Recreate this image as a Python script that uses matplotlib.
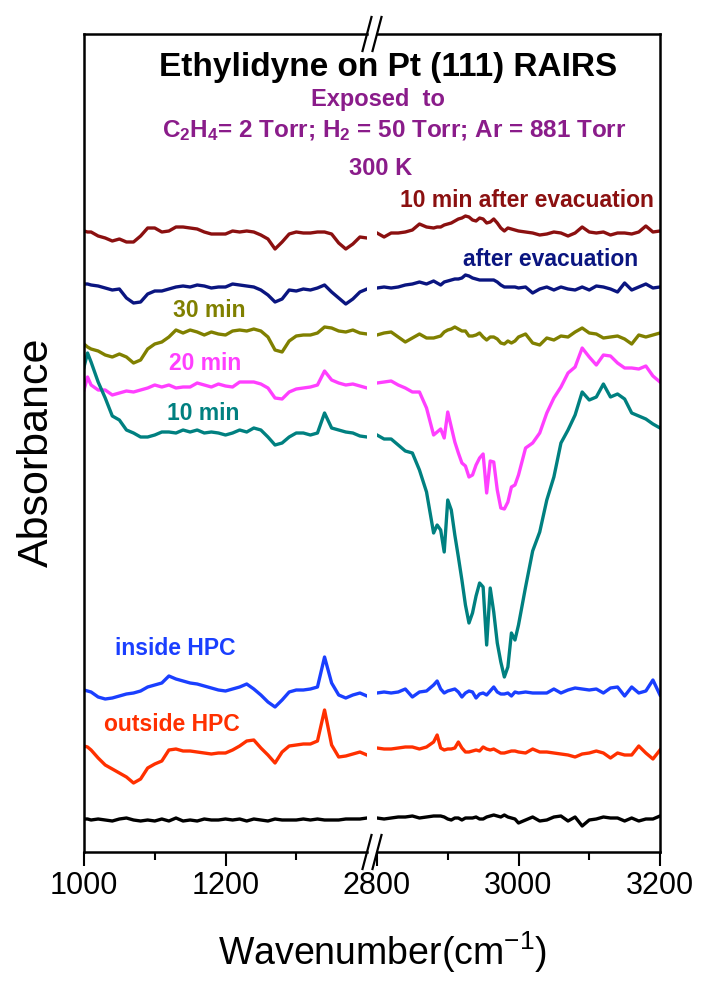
import matplotlib
matplotlib.use('Agg')
import matplotlib.pyplot as plt
from matplotlib.lines import Line2D

plt.rcParams['font.family'] = ['Liberation Sans', 'DejaVu Sans']
plt.rcParams['mathtext.fontset'] = 'custom'
plt.rcParams['mathtext.rm'] = 'Liberation Sans:bold'
plt.rcParams['mathtext.sf'] = 'Liberation Sans'
plt.rcParams['mathtext.default'] = 'rm'

# Wavenumber grids (cm-1) of the two parts of the broken axis
wn_low = [1000, 1005] + list(range(1010, 1401, 10))
wn_high = list(range(2800, 2880, 10)) + list(range(2880, 3000, 5)) + list(range(3000, 3201, 10))

# Stacked absorbance (arb. units, offsets included)
evac10_low = [621, 620, 620, 616, 614, 611, 613, 610, 610, 616, 624, 624, 620, 621, 625, 625, 624, 623, 620, 618, 618,
              618, 621, 620, 621, 620, 617, 613, 603, 610, 618, 620, 619, 619, 620, 620, 618, 609, 603, 608, 615, 614]
evac10_high = [619, 615, 619, 619, 620, 622, 628, 625,
               624, 625, 625, 627, 628, 629, 631, 633, 634, 636, 635, 632, 631, 634, 633, 629, 630, 633, 629, 624,
               621, 624, 623, 622,
               621, 620, 619, 617, 618, 620, 619, 616, 619, 625, 620, 619, 620, 617, 619, 619, 618, 620, 626, 620, 621]

evac_low = [568, 568, 567, 566, 564, 562, 563, 554, 549, 550, 558, 561, 561, 563, 565, 566, 565, 567, 566, 564, 565,
            565, 568, 567, 566, 565, 562, 557, 550, 553, 562, 561, 563, 562, 564, 567, 560, 554, 548, 553, 560, 563]
evac_high = [564, 565, 564, 565, 567, 568, 570, 568,
             571, 569, 567, 570, 571, 572, 573, 573, 574, 577, 576, 574, 573, 572, 572, 572, 572, 572, 570, 567,
             565, 565, 565, 565,
             564, 565, 559, 563, 565, 562, 565, 563, 562, 565, 562, 566, 565, 563, 560, 569, 562, 565, 568, 564, 565]

min30_low = [508, 505, 503, 501, 497, 495, 498, 495, 489, 492, 503, 508, 510, 515, 522, 519, 522, 520, 517, 520, 518,
             517, 521, 522, 521, 523, 521, 515, 502, 500, 511, 516, 517, 517, 519, 525, 524, 521, 520, 522, 519, 518]
min30_high = [517, 519, 520, 515, 510, 514, 518, 514,
              514, 515, 516, 520, 522, 523, 525, 523, 521, 521, 516, 516, 517, 519, 515, 512, 515, 515, 513, 509,
              508, 511, 509, 511,
              515, 518, 509, 507, 514, 512, 516, 515, 520, 524, 519, 518, 514, 515, 516, 513, 508, 517, 515, 517, 519]

min20_low = [462, 475, 467, 462, 462, 457, 459, 461, 460, 462, 464, 467, 465, 467, 464, 465, 465, 469, 467, 465, 468,
             466, 465, 470, 470, 470, 468, 464, 454, 453, 460, 463, 464, 465, 467, 481, 472, 469, 467, 468, 466, 464]
min20_high = [469, 470, 471, 467, 464, 460, 460, 444,
              417, 420, 423, 414, 440, 425, 410, 399, 389, 386, 375, 377, 387, 394, 398, 359, 391, 390, 362, 344,
              343, 350, 365, 367,
              377, 404, 409, 419, 439, 454, 465, 479, 485, 504, 495, 487, 497, 496, 489, 484, 484, 483, 486, 476, 470]

min10_low = [485, 499, 490, 470, 454, 436, 432, 422, 419, 415, 415, 417, 420, 420, 419, 422, 420, 422, 419, 420, 419,
             417, 419, 422, 420, 424, 422, 415, 407, 409, 415, 419, 419, 417, 419, 439, 424, 422, 420, 419, 416, 415]
min10_high = [417, 413, 413, 407, 401, 399, 382, 360,
              319, 327, 322, 300, 352, 342, 317, 295, 272, 247, 229, 239, 256, 269, 265, 207, 264, 240, 209, 190,
              175, 185, 219, 212,
              227, 265, 301, 320, 352, 375, 409, 422, 437, 460, 452, 455, 468, 455, 458, 453, 439, 436, 433, 428, 424]

inside_low = [162, 161, 160, 155, 153, 154, 156, 158, 159, 161, 165, 167, 169, 176, 173, 171, 169, 168, 166, 164, 162,
              161, 163, 165, 168, 163, 157, 150, 145, 152, 160, 162, 162, 163, 165, 195, 169, 157, 154, 157, 159, 156]
inside_high = [159, 160, 159, 160, 163, 155, 160, 161,
               167, 171, 163, 159, 161, 162, 163, 160, 155, 159, 161, 160, 154, 158, 159, 157, 161, 165, 160, 158,
               158, 159, 156, 160,
               159, 160, 159, 159, 159, 163, 159, 162, 164, 163, 162, 163, 159, 164, 165, 156, 165, 159, 161, 172, 157]

outside_low = [106, 105, 102, 94, 87, 83, 79, 75, 69, 73, 84, 88, 91, 102, 103, 101, 101, 100, 99, 98, 99,
               99, 102, 106, 111, 112, 104, 97, 89, 100, 106, 107, 108, 108, 111, 142, 107, 95, 96, 98, 100, 97]
outside_high = [104, 103, 103, 104, 105, 105, 103, 105,
                110, 117, 104, 102, 103, 103, 104, 110, 104, 100, 100, 101, 102, 101, 105, 103, 102, 103, 101, 99,
                99, 100, 101, 101,
                100, 99, 103, 100, 100, 99, 98, 97, 95, 98, 99, 101, 99, 94, 99, 97, 97, 106, 99, 93, 102]

clean_low = [33, 33, 32, 33, 32, 31, 33, 34, 32, 31, 32, 31, 33, 31, 34, 31, 32, 31, 33, 32, 32,
             33, 32, 33, 31, 33, 32, 31, 33, 32, 32, 32, 33, 32, 33, 32, 32, 32, 33, 33, 33, 34]
clean_high = [34, 33, 34, 35, 35, 36, 34, 35,
              36, 36, 36, 35, 33, 32, 34, 34, 32, 34, 34, 34, 35, 33, 33, 35, 36, 37, 36, 35,
              37, 35, 34, 33,
              29, 32, 35, 31, 32, 35, 36, 31, 35, 26, 32, 33, 35, 34, 34, 31, 34, 31, 33, 33, 36]

spectra = [
    ('10 min after evacuation', '#8B1010', evac10_low, evac10_high),
    ('after evacuation', '#0A1580', evac_low, evac_high),
    ('30 min', '#808000', min30_low, min30_high),
    ('20 min', '#FF3FFF', min20_low, min20_high),
    ('10 min', '#008080', min10_low, min10_high),
    ('inside HPC', '#1A3FFF', inside_low, inside_high),
    ('outside HPC', '#FF3000', outside_low, outside_high),
    ('clean', 'black', clean_low, clean_high),
]

W, H = 701, 988


def fx(px):
    return px / W


def fy(py):
    return 1 - py / H


fig = plt.figure(figsize=(W / 100, H / 100), dpi=100)
ax1 = fig.add_axes([fx(84), fy(852), fx(367) - fx(84), fy(34) - fy(852)])
ax2 = fig.add_axes([fx(377), fy(852), fx(660) - fx(377), fy(34) - fy(852)])

for name, color, low, high in spectra:
    ax1.plot(wn_low, low, color=color, lw=2.4)
    ax2.plot(wn_high, high, color=color, lw=2.4)

ax1.set_xlim(1000, 1400)
ax2.set_xlim(2800, 3200)
for ax in (ax1, ax2):
    ax.set_ylim(0, 818)
    ax.set_yticks([])
    for s in ax.spines.values():
        s.set_linewidth(1.8)
    ax.tick_params(axis='x', which='major', direction='out', length=10, width=1.5, labelsize=22, pad=4)
    ax.tick_params(axis='x', which='minor', direction='out', length=6, width=1.5)
ax1.spines['right'].set_visible(False)
ax2.spines['left'].set_visible(False)
ax1.set_xticks([1000, 1200])
ax1.set_xticks([1100, 1300], minor=True)
ax2.set_xticks([2800, 3000, 3200])
ax2.set_xticks([2900, 3100], minor=True)

# break marks "//" on top and bottom spines
for x in (367, 377):
    for y in (34, 852):
        fig.add_artist(Line2D([fx(x - 4.5), fx(x + 4.5)], [fy(y + 17), fy(y - 17)],
                              color='black', lw=1.6, transform=fig.transFigure))

fig.text(fx(383), fy(952), r'Wavenumber(cm$^{\mathsf{-1}}$)', ha='center', va='center', fontsize=27)
fig.text(fx(37), fy(452), 'Absorbance', ha='center', va='center', rotation=90, fontsize=31)

fig.text(fx(388), fy(76), 'Ethylidyne on Pt (111) RAIRS', ha='center', va='baseline',
         fontsize=24, fontweight='bold')
purple = '#8A1C8A'
fig.text(fx(378), fy(106), 'Exposed  to', ha='center', va='baseline', fontsize=17, fontweight='bold', color=purple)
fig.text(fx(394), fy(137), r'C$_2$H$_4$= 2 Torr; H$_2$ = 50 Torr; Ar = 881 Torr', ha='center', va='baseline',
         fontsize=17.5, fontweight='bold', color=purple)
fig.text(fx(381), fy(175), '300 K', ha='center', va='baseline', fontsize=17, fontweight='bold', color=purple)

label_pos = {
    '10 min after evacuation': (400, 207),
    'after evacuation': (463, 266),
    '30 min': (173, 317),
    '20 min': (169, 370),
    '10 min': (167, 420),
    'inside HPC': (115, 655),
    'outside HPC': (104, 731),
}
for name, color, low, high in spectra:
    if name in label_pos:
        px, py = label_pos[name]
        fig.text(fx(px), fy(py), name, ha='left', va='baseline', fontsize=16.5, fontweight='bold', color=color)

fig.savefig('out.png', dpi=100)
